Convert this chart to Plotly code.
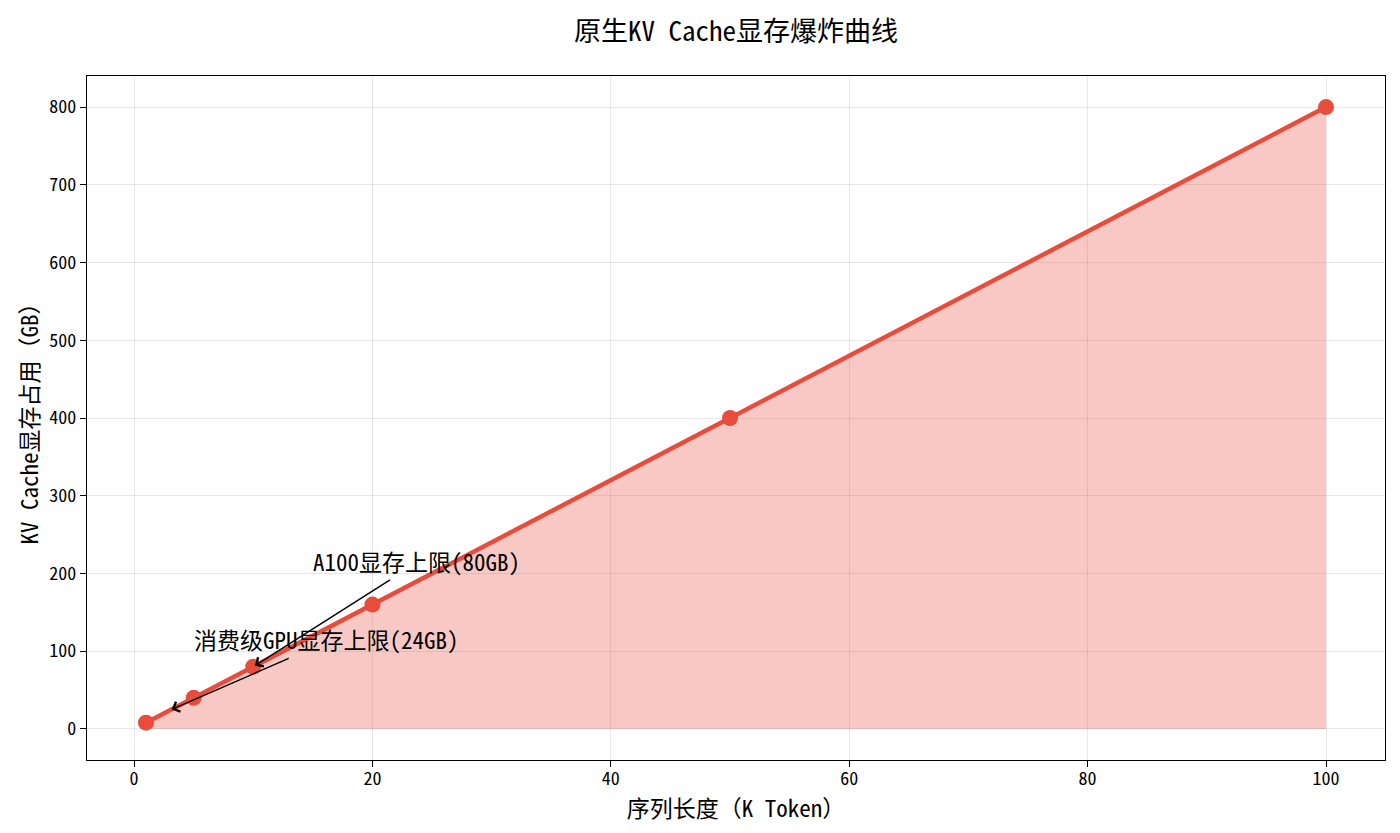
import plotly.graph_objects as go

# data
seq_len_k = [1, 5, 10, 20, 50, 100]
kv_cache_gb = [8, 40, 80, 160, 400, 800]

notes = ["A100显存上限(80GB)", "消费级GPU显存上限(24GB)"]
note_xy = [(15, 200), (5, 100)]
note_tail = [(21.6, 193), (13.1, 91.5)]
note_target = [(10, 80), (3, 24)]

red = "#e74c3c"
font_family = "Noto Sans Mono CJK SC, Noto Sans CJK SC, sans-serif"

fig = go.Figure()
fig.add_trace(go.Scatter(
    x=seq_len_k, y=kv_cache_gb, mode="lines+markers",
    line=dict(color=red, width=4.5),
    marker=dict(size=16, color=red),
    fill="tozeroy", fillcolor="rgba(231,76,60,0.3)",
    showlegend=False,
))

annotations = []
for text, (tx, ty), (ax, ay), (hx, hy) in zip(notes, note_xy, note_tail, note_target):
    # text label
    annotations.append(dict(
        x=tx, y=ty, xref="x", yref="y", text=text, showarrow=False,
        xanchor="left", yanchor="bottom", xshift=-2, yshift=-7,
        font=dict(size=23, color="black"),
    ))
    # arrow pointing at the limit
    annotations.append(dict(
        x=hx, y=hy, xref="x", yref="y", text="",
        ax=ax, ay=ay, axref="x", ayref="y",
        showarrow=True, arrowhead=4, arrowsize=1.5, arrowwidth=1.4,
        arrowcolor="black", standoff=2,
    ))

axis_common = dict(
    showline=True, linecolor="black", linewidth=1.3, mirror=True,
    ticks="outside", ticklen=6, tickcolor="black",
    showgrid=True, gridcolor="rgba(0,0,0,0.09)", gridwidth=1,
    zeroline=False, tickfont=dict(size=18, color="black"),
)

fig.update_layout(
    width=1392, height=825,
    paper_bgcolor="white", plot_bgcolor="white",
    font=dict(family=font_family, color="black"),
    title=dict(text="原生KV Cache显存爆炸曲线", x=0.5, xref="paper", xanchor="center",
               y=0.972, yanchor="middle", font=dict(size=27)),
    margin=dict(l=79, r=15, t=68, b=73),
    xaxis=dict(axis_common, range=[-3.95, 104.95], tickvals=[0, 20, 40, 60, 80, 100],
               ticklabelstandoff=-4,
               title=dict(text="序列长度（K Token）", font=dict(size=23), standoff=2)),
    yaxis=dict(axis_common, range=[-40, 840], tickvals=[0, 100, 200, 300, 400, 500, 600, 700, 800],
               title=dict(text="KV Cache显存占用（GB）", font=dict(size=23), standoff=4)),
    annotations=annotations,
)

fig.write_html("out.html")
